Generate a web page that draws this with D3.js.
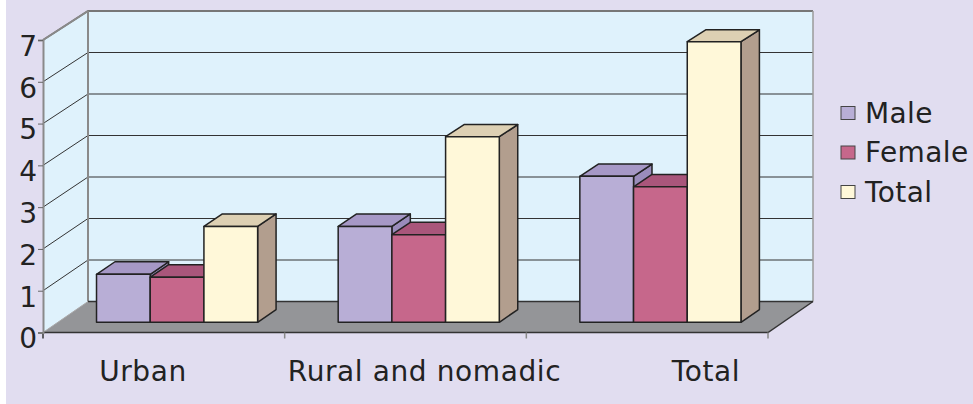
<!DOCTYPE html>
<html>
<head>
<meta charset="utf-8">
<script src="https://cdn.jsdelivr.net/npm/d3@7"></script>
<style>
body { margin: 0; background: #fff; }
svg text { font-family: "DejaVu Sans", Verdana, sans-serif; fill: #222; }
</style>
</head>
<body>
<svg id="chart" width="973" height="404"></svg>
<script>
// data
var categories = ['Urban', 'Rural and nomadic', 'Total'];
var series = ['Male', 'Female', 'Total'];
var male = [1.15, 2.3, 3.5];
var female = [1.08, 2.1, 3.25];
var total = [2.3, 4.45, 6.73];
var yTicks = [0, 1, 2, 3, 4, 5, 6, 7];

var values = [male, female, total];
var faces = [
    { front: '#b8aed6', top: '#a698c6', side: '#9a8cbb' },
    { front: '#c6678b', top: '#a9567b', side: '#96486b' },
    { front: '#fff8d9', top: '#ddd0b3', side: '#b29e8e' }
];

var svg = d3.select('#chart');
svg.append('rect').attr('x', 6).attr('y', 0).attr('width', 967).attr('height', 404).attr('fill', '#e1ddf0');

// depth offset of the 3d box
var DX = 45, DY = 31;
var x = d3.scaleBand().domain(categories).range([43, 768]);
// y scale at depth d (0 = front, 1 = back wall)
function yAt(d) {
    return d3.scaleLinear().domain([0, 7]).range([332.5 - DY * d, 40 - 29 * d]);
}
var yFront = yAt(0), yBack = yAt(1);

// walls
var wall = svg.append('g');
wall.append('polygon')
    .attr('points', [[43, yFront(0)], [88, yBack(0)], [88, yBack(7)], [43, yFront(7)]].join(' '))
    .attr('fill', '#dff2fc');
wall.append('rect').attr('x', 88).attr('y', yBack(7)).attr('width', 725).attr('height', yBack(0) - yBack(7)).attr('fill', '#dff2fc');

// gridlines
yTicks.slice(1).forEach(function(v){
    wall.append('polyline')
        .attr('points', [[43, yFront(v)], [88, yBack(v)], [813, yBack(v)]].join(' '))
        .attr('fill', 'none').attr('stroke', v == 7 ? '#777' : '#333').attr('stroke-width', v == 7 ? 2 : 1);
});
wall.append('line').attr('x1', 88).attr('x2', 88).attr('y1', yBack(0)).attr('y2', yBack(7)).attr('stroke', '#8a8a8a').attr('stroke-width', 2);
wall.append('line').attr('x1', 813).attr('x2', 813).attr('y1', yBack(0)).attr('y2', yBack(7)).attr('stroke', '#9a9a9a').attr('stroke-width', 1.5);
wall.append('line').attr('x1', 43).attr('x2', 88).attr('y1', yFront(7)).attr('y2', yBack(7)).attr('stroke', '#8a8a8a').attr('stroke-width', 1.5);

// floor
var x0 = x.range()[0], x1 = x.range()[1];
svg.append('polygon')
    .attr('points', [[x0, yFront(0)], [x1, yFront(0)], [x1 + DX, yBack(0)], [x0 + DX, yBack(0)]].join(' '))
    .attr('fill', '#949598');
svg.append('line').attr('x1', x0 + DX).attr('x2', x1 + DX).attr('y1', yBack(0)).attr('y2', yBack(0)).attr('stroke', '#333').attr('stroke-width', 1.5);
svg.append('line').attr('x1', x0).attr('x2', x0 + DX).attr('y1', yFront(0)).attr('y2', yBack(0)).attr('stroke', '#aaa').attr('stroke-width', 1);
svg.append('polyline')
    .attr('points', [[x0, yFront(0)], [x1, yFront(0)], [x1 + DX, yBack(0)]].join(' '))
    .attr('fill', 'none').attr('stroke', '#333').attr('stroke-width', 1.5);

// x ticks
x.domain().concat(['end']).forEach(function(c, i){
    var px = i < categories.length ? x(c) : x1;
    svg.append('line').attr('x1', px).attr('x2', px).attr('y1', yFront(0)).attr('y2', yFront(0) + 6)
        .attr('stroke', i == 0 ? '#333' : '#888').attr('stroke-width', 1.5);
});

// y axis
var yAxis = d3.axisLeft(yFront).tickValues(yTicks).tickSize(5).tickPadding(1).tickFormat(d3.format('d'));
var ya = svg.append('g').attr('transform', 'translate(43,0)').call(yAxis);
ya.select('.domain').attr('stroke', '#8a8a8a').attr('stroke-width', 2);
ya.selectAll('.tick line').attr('stroke', '#666');
ya.selectAll('.tick text').attr('font-size', 28).attr('dy', '0.55em').style('font-family', '"DejaVu Sans", Verdana, sans-serif').attr('fill', '#222');

// bars
var D1 = 0.33, D2 = 0.74;
var bw = x.bandwidth() / 4.5;
var yb1 = yAt(D1), yb2 = yAt(D2);
var bars = svg.append('g').attr('stroke', '#222').attr('stroke-width', 1.5).attr('stroke-linejoin', 'round');
categories.forEach(function(c, ci){
    series.forEach(function(s, si){
        var v = values[si][ci];
        var lx = x(c) + DX * D1 + 0.72 * bw + si * bw;
        var rx = lx + bw;
        var ox = DX * (D2 - D1);
        var topF = yb1(v), botF = yb1(0), topB = yb2(v), botB = yb2(0);
        // side
        bars.append('polygon')
            .attr('points', [[rx, topF], [rx + ox, topB], [rx + ox, botB], [rx, botF]].join(' '))
            .attr('fill', faces[si].side);
        // top
        bars.append('polygon')
            .attr('points', [[lx, topF], [lx + ox, topB], [rx + ox, topB], [rx, topF]].join(' '))
            .attr('fill', faces[si].top);
        // front
        bars.append('rect').attr('x', lx).attr('y', topF).attr('width', bw).attr('height', botF - topF)
            .attr('fill', faces[si].front);
    });
});

// category labels
var xl = d3.scalePoint().domain(categories).range([143, 706]);
svg.append('g').selectAll('text').data(categories).join('text')
    .attr('x', function(d){ return xl(d); })
    .attr('y', 381)
    .attr('text-anchor', 'middle')
    .attr('font-size', 28)
    .attr('letter-spacing', 0.6)
    .text(function(d){ return d; });

// legend
var lg = svg.append('g').attr('transform', 'translate(841,0)');
series.forEach(function(s, i){
    var by = 122.5 + i * 39.5;
    lg.append('rect').attr('x', 0).attr('y', by - 16).attr('width', 14).attr('height', 13)
        .attr('fill', faces[i].front).attr('stroke', '#444').attr('stroke-width', 1);
    lg.append('text').attr('x', 24).attr('y', by).attr('font-size', 28).attr('letter-spacing', 0.4).text(s);
});
</script>
</body>
</html>
